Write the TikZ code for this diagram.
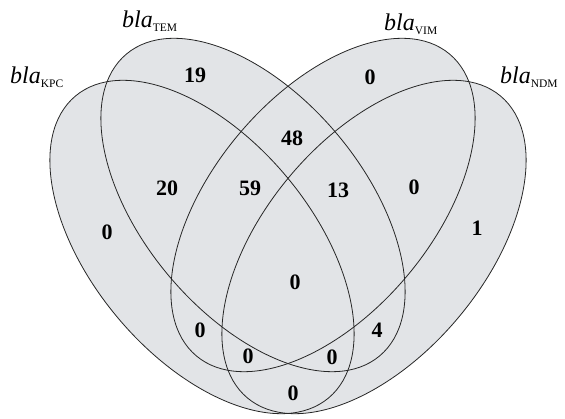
\documentclass[tikz,border=0pt]{standalone}
\usepackage{fontspec}
\setmainfont{Liberation Serif}
\usepackage{xcolor}
\usepackage{tikz}
\definecolor{vennfill}{RGB}{226,228,231}
\newcommand{\setname}[2]{#1\raisebox{-4pt}{\fontsize{11.5}{12}\selectfont\upshape #2}}
\tikzset{
  setfill/.style={fill=vennfill, draw=none},
  setline/.style={draw=black!85, line width=0.8pt},
  cnt/.style={font=\fontsize{22}{24}\selectfont\bfseries, inner sep=0pt},
  setlbl/.style={font=\fontsize{24}{26}\selectfont\itshape, inner sep=0pt, anchor=base west},
}

\begin{document}
\begin{tikzpicture}[x=1pt, y=-1pt]
  \useasboundingbox (0,0) rectangle (565,419);
  % ellipse centres
  \coordinate (kpc) at (202,247);
  \coordinate (tem) at (253,205);
  \coordinate (vim) at (323,205);
  \coordinate (ndm) at (374,247);
  \foreach \c/\a in {kpc/-50, tem/-50, vim/50, ndm/50}
    \fill[setfill, rotate around={\a:(\c)}] (\c) ellipse [x radius=197pt, y radius=110pt];
  \foreach \c/\a in {kpc/-50, tem/-50, vim/50, ndm/50}
    \draw[setline, rotate around={\a:(\c)}] (\c) ellipse [x radius=197pt, y radius=110pt];
  % set names
  \node[setlbl] (lkpc) at (10,84)  {\setname{bla}{KPC}};
  \node[setlbl] (ltem) at (122,28) {\setname{bla}{TEM}};
  \node[setlbl] (lvim) at (384,31) {\setname{bla}{VIM}};
  \node[setlbl] (lndm) at (500,84) {\setname{bla}{NDM}};
  % counts
  \node[cnt] (n1)  at (195,75)  {19};
  \node[cnt] (n2)  at (370,77)  {0};
  \node[cnt] (n3)  at (167,188) {20};
  \node[cnt] (n4)  at (250,188) {59};
  \node[cnt] (n5)  at (292,138) {48};
  \node[cnt] (n6)  at (338,190) {13};
  \node[cnt] (n7)  at (414,187) {0};
  \node[cnt] (n8)  at (107,232) {0};
  \node[cnt] (n9)  at (477,228) {1};
  \node[cnt] (n10) at (295,282) {0};
  \node[cnt] (n11) at (200,330) {0};
  \node[cnt] (n12) at (248,356) {0};
  \node[cnt] (n13) at (332,357) {0};
  \node[cnt] (n14) at (377,330) {4};
  \node[cnt] (n15) at (293,393) {0};
\end{tikzpicture}
\end{document}
